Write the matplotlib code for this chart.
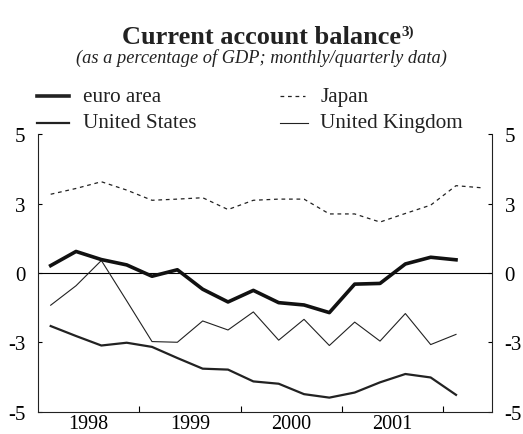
#!/usr/bin/env python3
# -*- coding: utf-8 -*-

import numpy as np
import matplotlib
matplotlib.use("Agg")
import matplotlib.pyplot as plt
from matplotlib.lines import Line2D

plt.rcParams['font.family'] = ['Liberation Serif', 'DejaVu Serif']

# quarterly data, 1998Q1 onwards
start_year = 1998
euro_area = [0.32, 0.93, 0.58, 0.35, -0.14, 0.14, -0.70, -1.25, -0.75,
             -1.28, -1.38, -1.71, -0.48, -0.45, 0.39, 0.68, 0.57]
united_states = [-2.29, -2.72, -3.13, -3.01, -3.19, -3.67, -4.13, -4.17, -4.68,
                 -4.78, -5.23, -5.38, -5.16, -4.72, -4.36, -4.51, -5.26]
japan = [3.40, 3.65, 3.94, 3.58, 3.14, 3.19, 3.25, 2.74, 3.14,
         3.19, 3.19, 2.55, 2.55, 2.20, 2.57, 2.93, 3.77, 3.68]
united_kingdom = [-1.39, -0.55, 0.54, -1.20, -2.96, -2.99, -2.07, -2.46, -1.68,
                  -2.90, -2.00, -3.13, -2.12, -2.94, -1.75, -3.09, -2.65]

year_labels = ['1998', '1999', '2000', '2001']
ytick_pos = [-6, -3, 0, 3, 6]
ytick_labels = ['-5', '-3', '0', '3', '5']


def quarter_x(n):
    # mid-quarter position on a year axis
    return start_year + (np.arange(n) + 0.5) / 4.0


fig = plt.figure(figsize=(5.23, 4.35), dpi=100)
ax = fig.add_axes([0.0727, 0.0506, 0.868, 0.639])

ax.axhline(0, color='black', lw=0.8)
ax.plot(quarter_x(len(japan)), japan, color='#222', lw=0.9, ls=(0, (3, 3)))
ax.plot(quarter_x(len(united_kingdom)), united_kingdom, color='#222', lw=0.8)
ax.plot(quarter_x(len(united_states)), united_states, color='#222', lw=1.6)
ax.plot(quarter_x(len(euro_area)), euro_area, color='#111', lw=2.6)

ax.set_xlim(1998.0, 2002.48)
ax.set_ylim(-6, 6)

# year boundaries as ticks, year labels centred between them
ax.set_xticks([1999, 2000, 2001, 2002])
ax.set_xticklabels([])
ax.set_xticks([1998.5, 1999.5, 2000.5, 2001.5], minor=True)
ax.set_xticklabels(year_labels, minor=True, fontsize=14.5)
ax.tick_params(axis='x', which='major', direction='in', length=4, width=0.8)
ax.tick_params(axis='x', which='minor', length=0, pad=1.5)

ax.set_yticks(ytick_pos)
ax.set_yticklabels(ytick_labels, fontsize=15)
ax.tick_params(axis='y', direction='in', length=3, width=0.8,
               left=True, right=True, labelleft=True, labelright=True, pad=9)

ax.spines['top'].set_visible(False)
for s in ['left', 'right', 'bottom']:
    ax.spines[s].set_linewidth(0.8)
    ax.spines[s].set_color('#222')

# title block
fig.text(0.5, 0.9, 'Current account balance', ha='center', va='baseline',
         fontsize=19, fontweight='bold', color='#222')
fig.text(0.768, 0.918, '3)', ha='left', va='baseline',
         fontsize=11, fontweight='bold', color='#222')
fig.text(0.5, 0.856, '(as a percentage of GDP; monthly/quarterly data)',
         ha='center', va='baseline', fontsize=13.2, style='italic', color='#222')

# legend drawn by hand
legend_items = [
    ('euro area', 0.071, 0.777, 0.06, 0.088, dict(lw=2.6)),
    ('United States', 0.071, 0.715, 0.06, 0.088, dict(lw=1.6)),
    ('Japan', 0.535, 0.777, 0.048, 0.077, dict(lw=0.9, ls=(0, (3, 3)))),
    ('United Kingdom', 0.535, 0.715, 0.054, 0.077, dict(lw=0.8)),
]
for label, x0, y0, ln, gap, style in legend_items:
    fig.add_artist(Line2D([x0, x0 + ln], [y0, y0], color='#222',
                          transform=fig.transFigure, **style))
    fig.text(x0 + gap, y0, label, ha='left', va='center', fontsize=15.2, color='#222')

fig.savefig('out.png', dpi=100)
